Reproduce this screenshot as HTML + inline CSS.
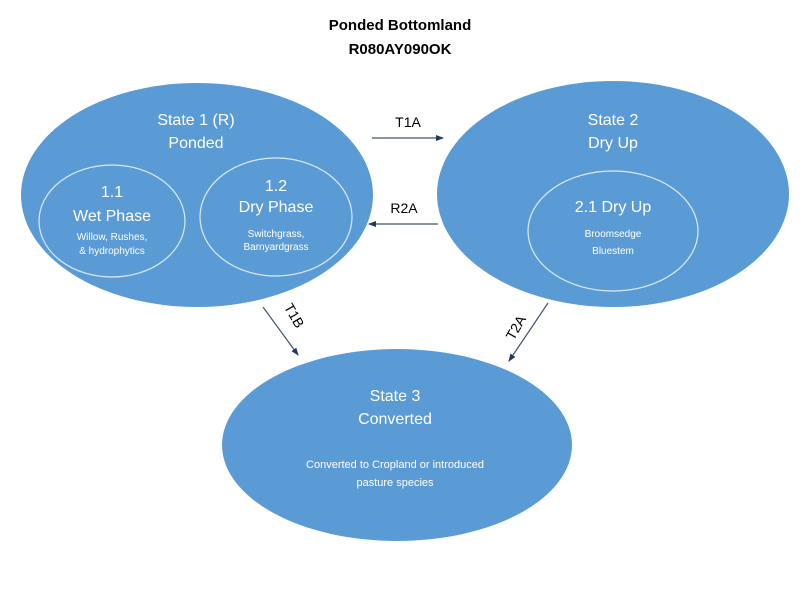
<!DOCTYPE html>
<html><head><meta charset="utf-8"><style>
html,body{margin:0;padding:0;background:#fff;}
svg text{font-family:"Liberation Sans",sans-serif;}
</style></head><body>
<svg width="800" height="600" viewBox="0 0 800 600" xmlns="http://www.w3.org/2000/svg">
<defs><marker id="a" markerWidth="8" markerHeight="8" refX="7" refY="4" orient="auto" markerUnits="userSpaceOnUse"><path d="M0,1 L8,4 L0,7 Z" fill="#1f3864"/></marker></defs>
<text x="400" y="30" text-anchor="middle" font-size="15" font-weight="bold" fill="#000">Ponded Bottomland</text>
<text x="400" y="54" text-anchor="middle" font-size="15" font-weight="bold" fill="#000">R080AY090OK</text>
<g fill="#5b9bd5">
<ellipse cx="197" cy="195" rx="176" ry="112"/>
<ellipse cx="613" cy="194" rx="176" ry="113"/>
<ellipse cx="397" cy="445" rx="175" ry="96"/>
</g>
<g fill="none" stroke="#dce9f5" stroke-width="1.2">
<ellipse cx="112" cy="221" rx="73" ry="56"/>
<ellipse cx="276" cy="217" rx="76" ry="59"/>
<ellipse cx="613" cy="231" rx="85" ry="60"/>
</g>
<g fill="#fff" text-anchor="middle">
<text x="196" y="125" font-size="16">State 1 (R)</text>
<text x="196" y="148" font-size="16">Ponded</text>
<text x="112" y="197" font-size="16">1.1</text>
<text x="112" y="221" font-size="16">Wet Phase</text>
<text x="112" y="240" font-size="10">Willow, Rushes,</text>
<text x="112" y="254" font-size="10">&amp; hydrophytics</text>
<text x="276" y="191" font-size="16">1.2</text>
<text x="276" y="212" font-size="16">Dry Phase</text>
<text x="276" y="237" font-size="10">Switchgrass,</text>
<text x="276" y="250" font-size="10">Barnyardgrass</text>
<text x="613" y="125" font-size="16">State 2</text>
<text x="613" y="148" font-size="16">Dry Up</text>
<text x="613" y="212" font-size="16">2.1 Dry Up</text>
<text x="613" y="237" font-size="10">Broomsedge</text>
<text x="613" y="254" font-size="10">Bluestem</text>
<text x="395" y="401" font-size="16">State 3</text>
<text x="395" y="424" font-size="16">Converted</text>
<text x="395" y="468" font-size="11">Converted to Cropland or introduced</text>
<text x="395" y="486" font-size="11">pasture species</text>
</g>
<g stroke="#44546a" stroke-width="1.2" fill="none" marker-end="url(#a)">
<line x1="372" y1="138" x2="443" y2="138"/>
<line x1="438" y1="224" x2="369" y2="224"/>
<line x1="263" y1="307" x2="298" y2="355"/>
<line x1="548" y1="303" x2="509" y2="361"/>
</g>
<g fill="#000" font-size="14" text-anchor="middle">
<text x="408" y="127">T1A</text>
<text x="404" y="213">R2A</text>
<text transform="translate(290,318) rotate(60)">T1B</text>
<text transform="translate(520,330) rotate(-60)">T2A</text>
</g>
</svg>
</body></html>
